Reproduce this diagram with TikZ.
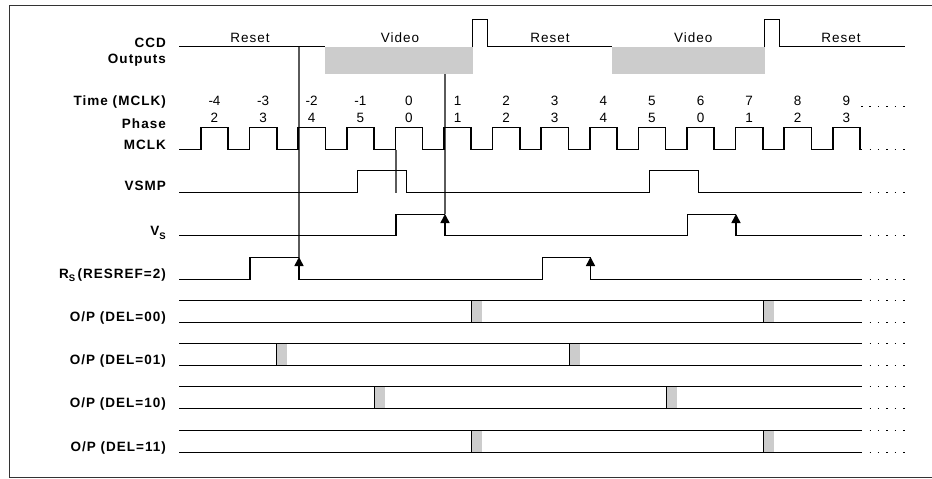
\documentclass[tikz,border=0pt]{standalone}
\usepackage{fontspec}
\setmainfont{Liberation Sans}
\newfontfamily\lblfont[LetterSpace=7.5]{Liberation Sans}
\usetikzlibrary{arrows.meta}
\definecolor{boxgray}{HTML}{CCCCCC}
\definecolor{guide}{HTML}{5A5A5A}
\definecolor{framec}{HTML}{333333}
\tikzset{
  wave/.style={line width=1.6pt, line join=miter},
  guideline/.style={draw=guide, line width=1.3pt},
  framebox/.style={draw=framec, line width=1.6pt},
  lbl/.style={anchor=base east, font=\lblfont\bfseries\fontsize{13.5}{16}\selectfont, inner sep=0pt},
  num/.style={anchor=base, font=\fontsize{13.5}{16}\selectfont, inner sep=0pt},
  seg/.style={anchor=base, font=\lblfont\fontsize{13.5}{16}\selectfont, inner sep=0pt},
  dotsline/.style={line width=1.5pt, dash pattern=on 1.5pt off 6.9pt},
  edgearrow/.style={line width=1.6pt, -{Triangle[length=9pt,width=9pt]}},
  grayblock/.style={fill=boxgray}
}
\begin{document}
\begin{tikzpicture}[x=1pt,y=-1pt]
\useasboundingbox (0,0) rectangle (932,479);
\clip (0,0) rectangle (932,479);
\draw[framebox] (9.5,5.5) rectangle (950,477.5);

% ---------- labels ----------
\node[lbl] (lccd) at (166,47.3) {CCD};
\node[lbl] (lout) at (166,63.3) {Outputs};
\node[lbl] (ltime) at (166,105.5) {Time (MCLK)};
\node[lbl] (lphase) at (166,128) {Phase};
\node[lbl] (lmclk) at (166,149) {MCLK};
\node[lbl] (lvsmp) at (166,190.5) {VSMP};
\node[lbl] (lvs) at (166,235.5) {V\raisebox{-3.5pt}{\fontsize{9.5}{10}\selectfont S}};
\node[lbl] (lrs) at (166,278) {R\raisebox{-3.5pt}{\fontsize{9.5}{10}\selectfont S}\,(RESREF=2)};
\node[lbl] (lop0) at (166,321.3) {O/P (DEL=00)};
\node[lbl] (lop1) at (166,364.7) {O/P (DEL=01)};
\node[lbl] (lop2) at (166,407.7) {O/P (DEL=10)};
\node[lbl] (lop3) at (166,451.3) {O/P (DEL=11)};

% ---------- CCD outputs ----------
\fill[grayblock] (325,46.5) rectangle (472.5,74);
\fill[grayblock] (611.5,46.5) rectangle (764.5,74);
\draw[wave] (179,46.5) -- (325,46.5);
\draw[wave] (472.5,46.5) -- (472.5,19.5) -- (487.5,19.5) -- (487.5,46.5) -- (611.5,46.5);
\draw[wave] (764.5,46.5) -- (764.5,19.5) -- (779.5,19.5) -- (779.5,46.5) -- (905,46.5);
\node[seg] (reset1) at (250,42.3) {Reset};
\node[seg] (video1) at (400,42.3) {Video};
\node[seg] (reset2) at (550,42.3) {Reset};
\node[seg] (video2) at (693.3,42.3) {Video};
\node[seg] (reset3) at (841,42.3) {Reset};

% ---------- time and phase numbers ----------
\foreach \t [count=\k from 0] in {-4,-3,-2,-1,0,1,2,3,4,5,6,7,8,9} {
  \node[num] (t\k) at ({214.5+48.6*\k},105) {\t};
}
\foreach \p [count=\k from 0] in {2,3,4,5,0,1,2,3,4,5,0,1,2,3} {
  \node[num] (p\k) at ({214.5+48.6*\k},122.5) {\p};
}
\draw[dotsline] (861,106.5) -- (906,106.5);

% ---------- guide lines ----------
\coordinate (g1top) at (299,46.5);
\coordinate (g1bot) at (299,258);
\coordinate (g2top) at (396,149.5);
\coordinate (g2bot) at (396,192.5);
\coordinate (g3top) at (445,74);
\coordinate (g3bot) at (445,214);
\draw[guideline] (g1top) -- (g1bot);
\draw[guideline] (g2top) -- (g2bot);
\draw[guideline] (g3top) -- (g3bot);

% ---------- MCLK ----------
\draw[wave] (179,149.5)
  \foreach \k in {0,...,13} {
    -- ({201+48.6*\k},149.5) -- ({201+48.6*\k},127.5)
    -- ({228.2+48.6*\k},127.5) -- ({228.2+48.6*\k},149.5)
  } -- (862,149.5);
\draw[dotsline] (869.5,149.5) -- (906,149.5);

% ---------- VSMP ----------
\draw[wave] (179,192.5) -- (357.5,192.5) -- (357.5,170.5) -- (406.5,170.5) -- (406.5,192.5)
  -- (649.5,192.5) -- (649.5,170.5) -- (698.5,170.5) -- (698.5,192.5) -- (862,192.5);
\draw[dotsline] (869.5,192.5) -- (906,192.5);

% ---------- Vs ----------
\draw[wave] (179,235.5) -- (396,235.5) -- (396,214.5) -- (445,214.5);
\draw[wave] (445,235.5) -- (687.5,235.5) -- (687.5,214.5) -- (736,214.5);
\draw[wave] (736,235.5) -- (862,235.5);
\coordinate (va1) at (445,235.5); \coordinate (vb1) at (445,214);
\coordinate (va2) at (736,235.5); \coordinate (vb2) at (736,214);
\draw[edgearrow] (va1) -- (vb1);
\draw[edgearrow] (va2) -- (vb2);
\draw[dotsline] (869.5,235.5) -- (906,235.5);

% ---------- Rs ----------
\draw[wave] (179,279.5) -- (250,279.5) -- (250,257.5) -- (299,257.5);
\draw[wave] (299,279.5) -- (542.5,279.5) -- (542.5,257.5) -- (590.5,257.5);
\draw[wave] (590.5,279.5) -- (862,279.5);
\coordinate (ra1) at (299,279.5); \coordinate (rb1) at (299,257);
\coordinate (ra2) at (590.5,279.5); \coordinate (rb2) at (590.5,257);
\draw[edgearrow] (ra1) -- (rb1);
\draw[edgearrow] (ra2) -- (rb2);
\draw[dotsline] (869.5,279.5) -- (906,279.5);

% ---------- O/P rows ----------
\foreach \yt/\yb/\xa/\xb in {300.5/322.5/471.5/763.5, 343.5/365.5/276.5/569.5, 386.5/408.5/374.5/666.5, 430.5/452.5/471.5/763.5} {
  \fill[grayblock] (\xa,\yt) rectangle ({\xa+10.7},\yb);
  \fill[grayblock] (\xb,\yt) rectangle ({\xb+10.7},\yb);
  \draw[wave] (179,\yt) -- (862,\yt);
  \draw[wave] (179,\yb) -- (862,\yb);
  \draw[wave] (\xa,\yt) -- (\xa,\yb);
  \draw[wave] (\xb,\yt) -- (\xb,\yb);
  \draw[dotsline] (869.5,\yt) -- (906,\yt);
  \draw[dotsline] (869.5,\yb) -- (906,\yb);
}
\end{tikzpicture}
\end{document}
